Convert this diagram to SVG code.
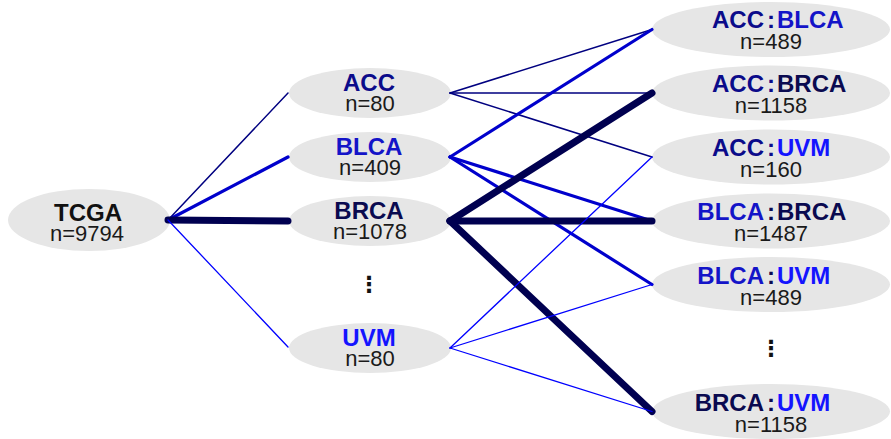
<svg xmlns="http://www.w3.org/2000/svg" width="891" height="439" viewBox="0 0 891 439">
  <style>
    .node ellipse { fill: #e6e6e6; }
    text { font-family: "Liberation Sans", Arial, sans-serif; }
    .name { font-size: 24px; font-weight: bold; }
    .count { font-size: 22px; fill: #1a1a1a; text-anchor: middle; }
    .mid { text-anchor: middle; }
    .lhs { text-anchor: end; }
    .sep { text-anchor: middle; fill: #0a0a50; }
    .rhs { text-anchor: start; }
    .dots { font-family: "DejaVu Sans", sans-serif; font-size: 22px; font-weight: bold; text-anchor: middle; fill: #111; }
    .c-acc { fill: #0b0b8a; }
    .c-blca { fill: #1414c8; }
    .c-brca { fill: #0a0a50; }
    .c-uvm { fill: #1414ff; }
    .c-tcga { fill: #111; }
    #connectors line { stroke-linecap: round; fill: none; }
    .e-acc { stroke: #000080; stroke-width: 1.5; }
    .e-blca { stroke: #0000cc; stroke-width: 3.2; }
    .e-brca { stroke: #000050; stroke-width: 7; }
    .e-uvm { stroke: #0000ff; stroke-width: 1.3; }
  </style>

  <!-- ellipses first, connectors drawn over their edges -->
  <g id="node-tcga" class="node">
    <ellipse cx="89" cy="220" rx="81" ry="31"/>
    <text class="name mid c-tcga" x="88" y="221">TCGA</text>
    <text class="count" x="87" y="241">n=9794</text>
  </g>

  <g id="node-acc" class="node">
    <ellipse cx="370" cy="93" rx="81" ry="25"/>
    <text class="name mid c-acc" x="369" y="91">ACC</text>
    <text class="count" x="370" y="111">n=80</text>
  </g>
  <g id="node-blca" class="node">
    <ellipse cx="370" cy="157" rx="81" ry="25"/>
    <text class="name mid c-blca" x="369" y="155">BLCA</text>
    <text class="count" x="370" y="175">n=409</text>
  </g>
  <g id="node-brca" class="node">
    <ellipse cx="370" cy="221" rx="81" ry="25"/>
    <text class="name mid c-brca" x="369" y="219">BRCA</text>
    <text class="count" x="370" y="239">n=1078</text>
  </g>
  <text class="dots" x="369" y="292">⋮</text>
  <g id="node-uvm" class="node">
    <ellipse cx="370" cy="348" rx="81" ry="25"/>
    <text class="name mid c-uvm" x="369" y="346">UVM</text>
    <text class="count" x="370" y="366">n=80</text>
  </g>

  <g id="node-acc-blca" class="node">
    <ellipse cx="771" cy="29.5" rx="119" ry="27.5"/>
    <text class="name lhs c-acc" x="764" y="28">ACC</text>
    <text class="name sep c-acc" x="771" y="28">:</text>
    <text class="name rhs c-blca" x="777" y="28">BLCA</text>
    <text class="count" x="771" y="49">n=489</text>
  </g>
  <g id="node-acc-brca" class="node">
    <ellipse cx="771" cy="93" rx="119" ry="27.5"/>
    <text class="name lhs c-acc" x="764" y="92">ACC</text>
    <text class="name sep c-acc" x="771" y="92">:</text>
    <text class="name rhs c-brca" x="777" y="92">BRCA</text>
    <text class="count" x="771" y="113">n=1158</text>
  </g>
  <g id="node-acc-uvm" class="node">
    <ellipse cx="771" cy="157" rx="119" ry="27.5"/>
    <text class="name lhs c-acc" x="764" y="156">ACC</text>
    <text class="name sep c-acc" x="771" y="156">:</text>
    <text class="name rhs c-uvm" x="777" y="156">UVM</text>
    <text class="count" x="771" y="177">n=160</text>
  </g>
  <g id="node-blca-brca" class="node">
    <ellipse cx="771" cy="221" rx="119" ry="27.5"/>
    <text class="name lhs c-blca" x="764" y="220">BLCA</text>
    <text class="name sep" x="771" y="220">:</text>
    <text class="name rhs c-brca" x="777" y="220">BRCA</text>
    <text class="count" x="771" y="241">n=1487</text>
  </g>
  <g id="node-blca-uvm" class="node">
    <ellipse cx="771" cy="284.5" rx="119" ry="27.5"/>
    <text class="name lhs c-blca" x="764" y="283.5">BLCA</text>
    <text class="name sep" x="771" y="283.5">:</text>
    <text class="name rhs c-uvm" x="777" y="283.5">UVM</text>
    <text class="count" x="771" y="304.5">n=489</text>
  </g>
  <text class="dots" x="771" y="356">⋮</text>
  <g id="node-brca-uvm" class="node">
    <ellipse cx="771" cy="411.5" rx="119" ry="27.5"/>
    <text class="name lhs c-brca" x="764" y="411">BRCA</text>
    <text class="name sep" x="771" y="411">:</text>
    <text class="name rhs c-uvm" x="777" y="411">UVM</text>
    <text class="count" x="771" y="431.5">n=1158</text>
  </g>

  <g id="connectors">
    <!-- TCGA to single cancer types -->
    <line class="e-acc" x1="168" y1="220" x2="288" y2="93"/>
    <line class="e-blca" x1="168" y1="220" x2="288" y2="157"/>
    <line class="e-brca" x1="168" y1="220" x2="288" y2="221"/>
    <line class="e-uvm" x1="168" y1="220" x2="288" y2="347"/>
    <!-- single types to pairs -->
    <line class="e-acc" x1="450" y1="93" x2="652" y2="29.5"/>
    <line class="e-acc" x1="450" y1="93" x2="652" y2="93"/>
    <line class="e-acc" x1="450" y1="93" x2="652" y2="157"/>
    <line class="e-blca" x1="450" y1="157" x2="652" y2="29.5"/>
    <line class="e-blca" x1="450" y1="157" x2="652" y2="221"/>
    <line class="e-blca" x1="450" y1="157" x2="652" y2="284.5"/>
    <line class="e-brca" x1="450" y1="221" x2="652" y2="93"/>
    <line class="e-brca" x1="450" y1="221" x2="652" y2="221"/>
    <line class="e-brca" x1="450" y1="221" x2="652" y2="411.5"/>
    <line class="e-uvm" x1="450" y1="348" x2="652" y2="157"/>
    <line class="e-uvm" x1="450" y1="348" x2="652" y2="284.5"/>
    <line class="e-uvm" x1="450" y1="348" x2="652" y2="411.5"/>
  </g>
</svg>
